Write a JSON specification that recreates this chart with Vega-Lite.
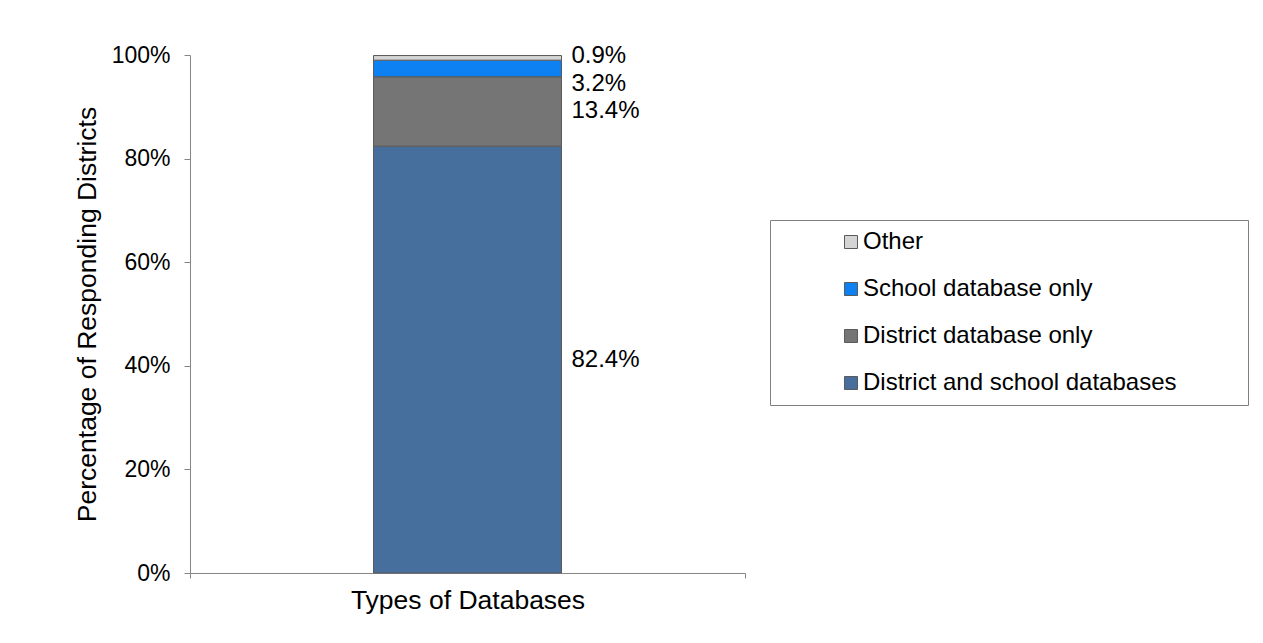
{
  "$schema": "https://vega.github.io/schema/vega-lite/v6.json",
  "width": 555,
  "height": 518,
  "autosize": "none",
  "padding": {"left": 190, "top": 55, "right": 518, "bottom": 70},
  "background": "white",
  "config": {
    "view": {"stroke": null},
    "font": "Liberation Sans",
    "text": {"font": "Liberation Sans"}
  },
  "data": {
    "values": [
      {"type": "Types of Databases", "category": "District and school databases", "pct": 82.4, "rank": 1, "label": "82.4%"},
      {"type": "Types of Databases", "category": "District database only", "pct": 13.4, "rank": 2, "label": "13.4%"},
      {"type": "Types of Databases", "category": "School database only", "pct": 3.2, "rank": 3, "label": "3.2%"},
      {"type": "Types of Databases", "category": "Other", "pct": 0.9, "rank": 4, "label": "0.9%"}
    ]
  },
  "encoding": {
    "x": {
      "field": "type",
      "type": "nominal",
      "title": "Types of Databases",
      "scale": {"paddingInner": 0, "paddingOuter": 0},
      "axis": {
        "labels": false,
        "tickBand": "extent",
        "tickSize": 5,
        "tickColor": "#868686",
        "domainColor": "#868686",
        "titleFontSize": 26.5,
        "titleFont": "Liberation Sans",
        "titleFontWeight": "normal",
        "titleColor": "#000000",
        "titlePadding": 9
      }
    }
  },
  "layer": [
    {
      "mark": {"type": "bar", "width": 188, "stroke": "#5a5a5a", "strokeWidth": 1},
      "encoding": {
        "y": {
          "field": "pct",
          "type": "quantitative",
          "stack": "zero",
          "scale": {"domain": [0, 100], "nice": false},
          "title": "Percentage of Responding Districts",
          "axis": {
            "values": [0, 20, 40, 60, 80, 100],
            "labelExpr": "datum.value + '%'",
            "grid": false,
            "tickSize": 6,
            "tickColor": "#868686",
            "domainColor": "#868686",
            "labelFontSize": 23,
            "labelFont": "Liberation Sans",
            "labelColor": "#000000",
            "labelPadding": 14,
            "titleFontSize": 26.5,
            "titleFont": "Liberation Sans",
            "titleFontWeight": "normal",
            "titleColor": "#000000",
            "titlePadding": 10
          }
        },
        "color": {
          "field": "category",
          "type": "nominal",
          "scale": {
            "domain": ["Other", "School database only", "District database only", "District and school databases"],
            "range": ["#d4d4d4", "#0d80f2", "#757575", "#476f9e"]
          },
          "legend": {
            "orient": "none",
            "legendX": 580,
            "legendY": 165,
            "title": " ",
            "titleOrient": "right",
            "titleFontSize": 2,
            "titlePadding": 61,
            "padding": 10,
            "strokeColor": "#808080",
            "fillColor": "white",
            "symbolType": "square",
            "symbolSize": 169,
            "symbolStrokeColor": "#5a5a5a",
            "symbolStrokeWidth": 1,
            "symbolOffset": 59,
            "labelOffset": 0,
            "labelFontSize": 24,
            "labelFont": "Liberation Sans",
            "labelColor": "#000000",
            "labelLimit": 0,
            "rowPadding": 23
          }
        },
        "order": {"field": "rank", "type": "quantitative"}
      }
    },
    {
      "transform": [{"filter": "datum.category === 'District and school databases'"}],
      "mark": {"type": "text", "align": "left", "baseline": "middle", "dx": 104, "fontSize": 24, "color": "#000000"},
      "encoding": {
        "y": {"field": "pct", "type": "quantitative", "stack": "zero", "bandPosition": 0.5},
        "text": {"field": "label"}
      }
    },
    {
      "transform": [
        {"stack": "pct", "groupby": ["type"], "sort": [{"field": "rank"}], "as": ["y0", "y1"]},
        {"filter": "datum.category === 'Other'"}
      ],
      "mark": {"type": "text", "align": "left", "baseline": "middle", "dx": 104, "dy": 0, "fontSize": 24, "color": "#000000"},
      "encoding": {
        "y": {"field": "y1", "type": "quantitative"},
        "text": {"field": "label"}
      }
    },
    {
      "transform": [
        {"stack": "pct", "groupby": ["type"], "sort": [{"field": "rank"}], "as": ["y0", "y1"]},
        {"filter": "datum.category === 'School database only'"}
      ],
      "mark": {"type": "text", "align": "left", "baseline": "middle", "dx": 104, "dy": 24, "fontSize": 24, "color": "#000000"},
      "encoding": {
        "y": {"field": "y1", "type": "quantitative"},
        "text": {"field": "label"}
      }
    },
    {
      "transform": [
        {"stack": "pct", "groupby": ["type"], "sort": [{"field": "rank"}], "as": ["y0", "y1"]},
        {"filter": "datum.category === 'District database only'"}
      ],
      "mark": {"type": "text", "align": "left", "baseline": "middle", "dx": 104, "dy": 34, "fontSize": 24, "color": "#000000"},
      "encoding": {
        "y": {"field": "y1", "type": "quantitative"},
        "text": {"field": "label"}
      }
    }
  ]
}
